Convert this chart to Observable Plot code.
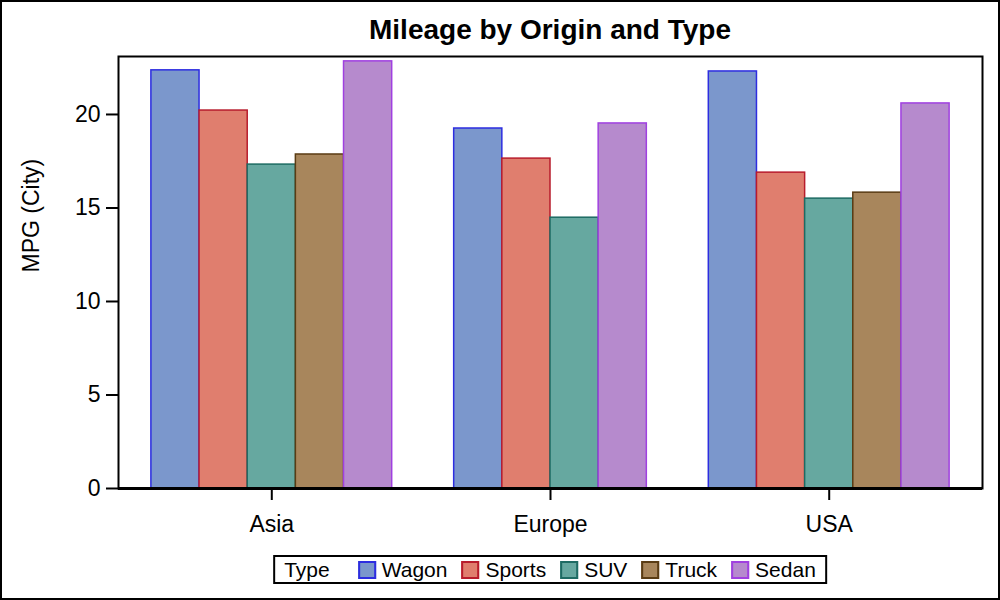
<!DOCTYPE html>
<html>
<head>
<meta charset="utf-8">
<script src="https://cdn.jsdelivr.net/npm/d3@7"></script>
<script src="https://cdn.jsdelivr.net/npm/@observablehq/plot@0.6"></script>
<style>
  body { margin: 0; background: #fff; font-family: "Liberation Sans", Arial, sans-serif; color: #000; }
  #wrap { position: relative; width: 1000px; height: 600px; overflow: hidden; background: #fff; }
  #border { position: absolute; left: 0; top: 0; width: 1000px; height: 600px; box-sizing: border-box; border: 2px solid #000; pointer-events: none; }
  #title { position: absolute; left: 118px; width: 864px; top: 16px; text-align: center; font-weight: bold; font-size: 28px; line-height: 28px; }
  #chart { position: absolute; left: 0; top: 0; }
  #legend { position: absolute; left: 550px; top: 555px; transform: translateX(-50%); border: 2px solid #000; display: flex; align-items: center; height: 25px; padding: 0 9px; font-size: 21px; line-height: 21px; white-space: nowrap; background: #fff; }
  #legend .lab { margin-right: 28px; }
  #legend .item { display: flex; align-items: center; }
  #legend .item + .item { margin-left: 14px; }
  #legend .sw { width: 18px; height: 18px; box-sizing: border-box; border: 2px solid; margin-right: 6px; }
</style>
</head>
<body>
<div id="wrap">
  <div id="title"></div>
  <div id="chart"></div>
  <div id="legend"></div>
  <div id="border"></div>
</div>
<script>
// ---- data ----
const titleText = "Mileage by Origin and Type";
const yLabel = "MPG (City)";
const legendTitle = "Type";
const origins = ["Asia", "Europe", "USA"];
const types = ["Wagon", "Sports", "SUV", "Truck", "Sedan"];
const asiaMpg = [22.36, 20.21, 17.32, 17.86, 22.84];
const europeMpg = [19.25, 17.64, 14.48, null, 19.52];
const usaMpg = [22.30, 16.89, 15.50, 15.82, 20.59];
const yTicks = [0, 5, 10, 15, 20];
const fillColors = ["#7b97cc", "#e07e6e", "#66a8a0", "#a8865c", "#b68acd"];
const strokeColors = ["#2d2de0", "#b81c2c", "#1d6b63", "#5a3c14", "#a040e0"];

// ---- build table (cluster bars within each origin) ----
const clusterWidth = 0.864;
const barW = clusterWidth / types.length;
const mpgByOrigin = [asiaMpg, europeMpg, usaMpg];
const rows = [];
origins.forEach((o, i) => {
  const present = types.map((t, k) => ({t, k, v: mpgByOrigin[i][k]})).filter(d => d.v != null);
  const n = present.length;
  present.forEach((d, j) => {
    const x1 = i + (j - n / 2) * barW;
    rows.push({origin: o, type: d.t, mpg: d.v, x1, x2: x1 + barW, fill: fillColors[d.k], stroke: strokeColors[d.k]});
  });
});

document.getElementById("title").textContent = titleText;

const chart = Plot.plot({
  width: 1000,
  height: 600,
  marginLeft: 118,
  marginRight: 18,
  marginTop: 56,
  marginBottom: 112,
  style: { fontFamily: "Liberation Sans, Arial, sans-serif", fontSize: "23px", color: "black", background: "transparent", overflow: "visible" },
  x: { type: "linear", domain: [-0.55, origins.length - 1 + 0.55] },
  y: { domain: [0, 23.1] },
  color: { type: "identity" },
  marks: [
    Plot.rectY(rows, { x1: "x1", x2: "x2", y: "mpg", fill: "fill", stroke: "stroke", strokeWidth: 1.5 }),
    Plot.ruleY([0], { stroke: "black", strokeWidth: 3 }),
    Plot.frame({ stroke: "black", strokeWidth: 2 }),
    Plot.axisY(yTicks, { tickSize: 12, tickPadding: 6, label: null, strokeWidth: 2 }),
    Plot.axisX(origins.map((o, i) => i), { tickFormat: i => origins[i], tickSize: 12, tickPadding: 15, label: null, strokeWidth: 2 }),
    Plot.text([yLabel], { text: d => d, frameAnchor: "left", dx: -87, rotate: -90, fill: "black", fontSize: 23 })
  ]
});
document.getElementById("chart").appendChild(chart);

// ---- legend ----
const leg = document.getElementById("legend");
const lab = document.createElement("span");
lab.className = "lab";
lab.textContent = legendTitle;
leg.appendChild(lab);
types.forEach((t, k) => {
  const item = document.createElement("span");
  item.className = "item";
  const sw = document.createElement("span");
  sw.className = "sw";
  sw.style.background = fillColors[k];
  sw.style.borderColor = strokeColors[k];
  const tx = document.createElement("span");
  tx.textContent = t;
  item.appendChild(sw);
  item.appendChild(tx);
  leg.appendChild(item);
});
</script>
</body>
</html>
